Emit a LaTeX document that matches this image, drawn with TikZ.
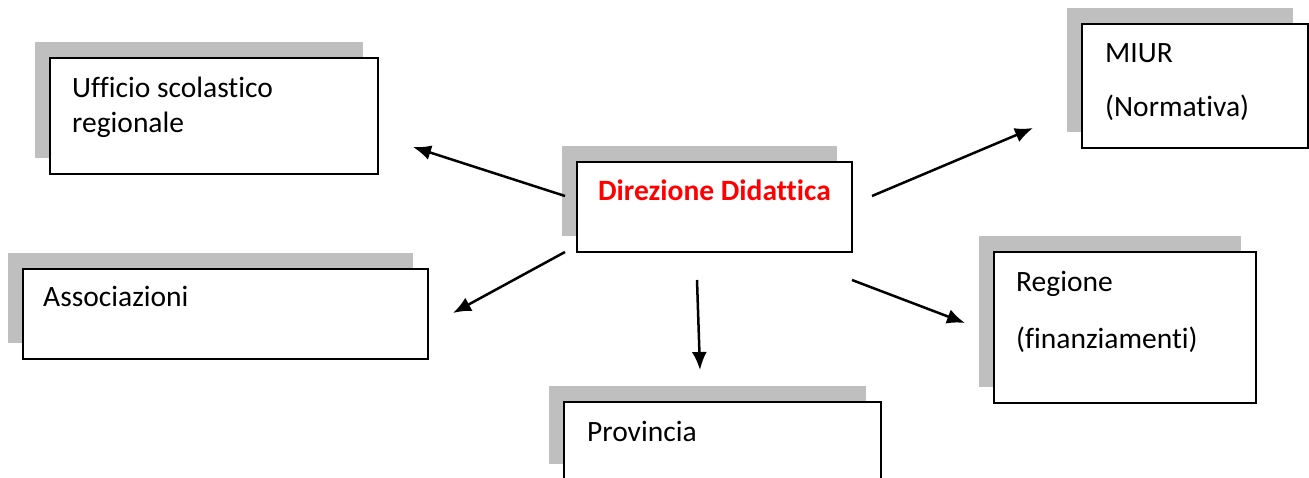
\documentclass[tikz,border=0pt]{standalone}
\usepackage{fontspec}
\setmainfont{Carlito}[Ligatures=NoCommon]
\usepackage{xcolor}
\usepackage{tikz}
\usetikzlibrary{shadows}
\usetikzlibrary{arrows.meta}
\definecolor{ombra}{RGB}{191,191,191}
\tikzset{>={Latex[length=18pt,width=15pt]}}
\tikzset{
	ente/.style={draw=black, line width=1.8pt, fill=white, inner sep=0pt,
		drop shadow={shadow xshift=-15pt, shadow yshift=16pt, fill=ombra, opacity=1}},
	voce/.style={anchor=base west, inner sep=0pt, font=\fontsize{29.5}{35}\selectfont},
	freccia/.style={->, line width=2.5pt, black}
}

\begin{document}
\begin{tikzpicture}[x=1pt, y=-1pt]
	\useasboundingbox (0,0) rectangle (1309,478);

	\coordinate[](Uo) at (565,196);
	\coordinate[](Ue) at (413,147);
	\coordinate[](Ao) at (565,252);
	\coordinate[](Ae) at (453,313);
	\coordinate[](Po) at (697,280);
	\coordinate[](Pe) at (700,370);
	\coordinate[](Mo) at (872,196);
	\coordinate[](Me) at (1033,128);
	\coordinate[](Ro) at (852,280);
	\coordinate[](Re) at (965,323);

	% Riquadri
	\node[ente, minimum width=328pt, minimum height=116pt] (uff) at (214,116) {};
	\node[ente, minimum width=275pt, minimum height=90pt] (dir) at (714.5,207) {};
	\node[ente, minimum width=226pt, minimum height=124pt] (miur) at (1195,86) {};
	\node[ente, minimum width=262pt, minimum height=151pt] (reg) at (1125,327.5) {};
	\node[ente, minimum width=317pt, minimum height=78pt] (prov) at (722.5,441) {};
	\node[ente, minimum width=405pt, minimum height=90pt] (ass) at (225.5,314) {};

	% Testi
	\node[voce] (uffA) at (72,97.5) {Ufficio scolastico};
	\node[voce] (uffB) at (72,133) {regionale};
	\node[voce, anchor=base, red, font=\fontsize{29.5}{35}\selectfont\bfseries] (dirT) at (714.5,201) {Direzione Didattica};
	\node[voce] (miurA) at (1105,63) {MIUR};
	\node[voce] (miurB) at (1105,117) {(Normativa)};
	\node[voce] (regA) at (1016,292) {Regione};
	\node[voce] (regB) at (1016,348) {(finanziamenti)};
	\node[voce] (provT) at (587,441) {Provincia};
	\node[voce] (assT) at (43,307) {Associazioni};

	%% Frecce
	\draw[freccia] (Uo) -- (Ue);
	\draw[freccia] (Ao) -- (Ae);
	\draw[freccia] (Po) -- (Pe);
	\draw[freccia] (Mo) -- (Me);
	\draw[freccia] (Ro) -- (Re);
\end{tikzpicture}
\end{document}
